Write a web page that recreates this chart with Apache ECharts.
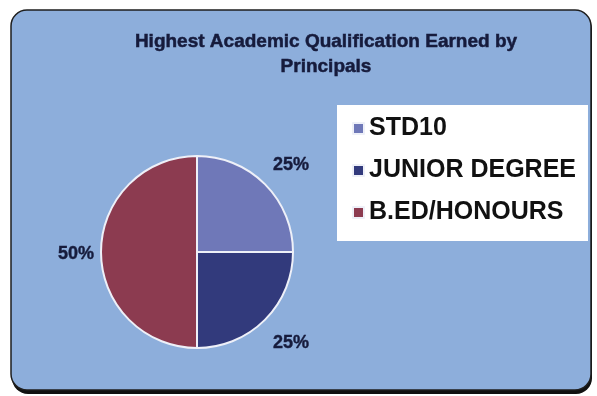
<!DOCTYPE html>
<html>
<head>
<meta charset="utf-8">
<script src="https://cdn.jsdelivr.net/npm/echarts@6/dist/echarts.min.js"></script>
<style>
  html, body { margin: 0; padding: 0; background: #ffffff; }
  #chart { width: 597px; height: 396px; }
</style>
</head>
<body>
<div id="chart"></div>
<script>
// Qualification categories and their share of principals (percent)
const categories = ['STD10', 'JUNIOR DEGREE', 'B.ED/HONOURS'];
const shares = [25, 25, 50];
const sliceColors = ['#6f78b8', '#323a7c', '#8c3b50'];
const titleText = 'Highest Academic Qualification Earned by\nPrincipals';

const chart = echarts.init(document.getElementById('chart'), null, { renderer: 'canvas' });

chart.setOption({
  animation: false,
  graphic: [
    // drop shadow under the panel
    {
      type: 'rect', z: 0,
      shape: { x: 12, y: 13, width: 580, height: 381, r: 16 },
      style: { fill: '#111111' }
    },
    // rounded blue panel
    {
      type: 'rect', z: 1,
      shape: { x: 11, y: 10, width: 580, height: 380, r: 16 },
      style: { fill: '#8daedb', stroke: '#1e1e1e', lineWidth: 1.5 }
    }
  ],
  title: {
    text: titleText,
    left: 326,
    textAlign: 'center',
    top: 29,
    padding: 0,
    textStyle: {
      fontFamily: 'Liberation Sans, Arial, sans-serif',
      fontWeight: 'bold',
      fontSize: 19,
      lineHeight: 25,
      color: '#161b3c',
      textBorderColor: '#161b3c',
      textBorderWidth: 0.5
    }
  },
  legend: {
    orient: 'vertical',
    left: 337,
    top: 105,
    data: categories,
    icon: 'rect',
    itemWidth: 11,
    itemHeight: 11,
    itemGap: 17,
    backgroundColor: '#ffffff',
    padding: [11, 12, 16, 15],
    textStyle: {
      fontFamily: 'Liberation Sans, Arial, sans-serif',
      fontWeight: 'bold',
      fontSize: 25,
      color: '#111111'
    }
  },
  series: [{
    type: 'pie',
    z: 3,
    center: [197, 252],
    radius: 96,
    startAngle: 90,
    clockwise: true,
    color: sliceColors,
    itemStyle: { borderColor: '#eef0f8', borderWidth: 2 },
    label: {
      show: true,
      position: 'outside',
      formatter: '{c}%',
      distanceToLabelLine: 0,
      fontFamily: 'Liberation Sans, Arial, sans-serif',
      fontWeight: 'bold',
      fontSize: 18,
      color: '#161b3c',
      textBorderColor: '#161b3c',
      textBorderWidth: 0.4
    },
    labelLine: { show: false, length: 30, length2: 0 },
    labelLayout: { align: 'center', verticalAlign: 'middle', dx: 5, dy: 2 },
    emphasis: { disabled: true },
    data: categories.map((name, i) => ({ name: name, value: shares[i] }))
  }]
});
</script>
</body>
</html>
